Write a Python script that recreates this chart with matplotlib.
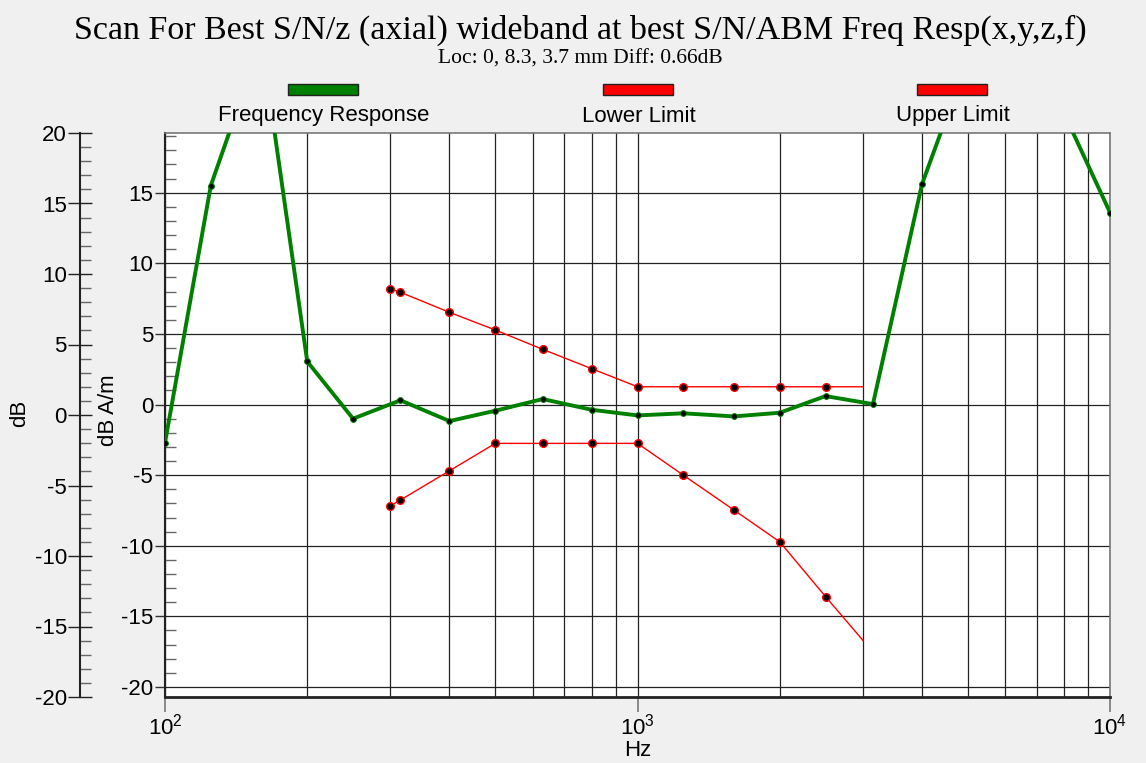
import matplotlib
matplotlib.use("Agg")
import matplotlib.pyplot as plt
from matplotlib.ticker import FixedLocator, MultipleLocator, LogLocator, NullFormatter, LogFormatterSciNotation
from matplotlib.patches import Rectangle

plt.rcParams['font.family'] = ['Liberation Sans', 'DejaVu Sans']
plt.rcParams['mathtext.default'] = 'regular'
plt.rcParams['axes.unicode_minus'] = False

# ---- data ----
freq_resp_hz = [100, 125, 160, 200, 250, 315, 400, 500, 630, 800, 1000, 1250,
                1600, 2000, 2500, 3150, 4000, 5000, 6300, 8000, 10000]
freq_resp_db = [-2.7, 15.5, 25.8, 3.05, -1.0, 0.3, -1.17, -0.44, 0.39, -0.37, -0.77, -0.62,
                -0.84, -0.58, 0.6, 0.03, 15.6, 24.5, 28.0, 20.6, 13.6]

limit_hz = [300, 315, 400, 500, 630, 800, 1000, 1250, 1600, 2000, 2500, 3000]
upper_db = [8.2, 7.95, 6.53, 5.28, 3.91, 2.54, 1.26, 1.26, 1.26, 1.26, 1.26, 1.26]
lower_db = [-7.17, -6.76, -4.69, -2.75, -2.75, -2.75, -2.75, -5.0, -7.47, -9.72, -13.6, -16.7]

legend_labels = ["Frequency Response", "Lower Limit", "Upper Limit"]
legend_colors = ["#008000", "#ff0000", "#ff0000"]

title = "Scan For Best S/N/z (axial) wideband at best S/N/ABM Freq Resp(x,y,z,f)"
subtitle = "Loc: 0, 8.3, 3.7 mm Diff: 0.66dB"

# ---- layout ----
W, H = 1146, 763
fig = plt.figure(figsize=(W / 100, H / 100), dpi=100, facecolor='#f0f0f0')

def fx(px):
    return px / W

def fy(py):
    return 1 - py / H

ax = fig.add_axes([fx(165), fy(697), fx(1110) - fx(165), fy(133) - fy(697)])
ax.set_facecolor('white')
ax.set_xscale('log')
ax.set_xlim(100, 10000)
ax.set_ylim(-20.71, 19.23)

# grid
ax.xaxis.set_major_locator(FixedLocator([100, 1000, 10000]))
ax.xaxis.set_major_formatter(LogFormatterSciNotation())
ax.xaxis.set_minor_locator(LogLocator(base=10, subs=range(2, 10)))
ax.xaxis.set_minor_formatter(NullFormatter())
ax.yaxis.set_major_locator(MultipleLocator(5))
ax.yaxis.set_minor_locator(MultipleLocator(1))
ax.grid(True, which='major', axis='both', color='#222222', lw=0.9)
ax.grid(True, which='minor', axis='x', color='#222222', lw=0.9)
ax.set_axisbelow(True)

ax.tick_params(axis='x', which='major', direction='out', length=10.8, width=1.2,
               color='#777777', labelsize=16, pad=1.5)
ax.tick_params(axis='x', which='minor', length=0)
ax.tick_params(axis='y', which='major', direction='out', length=7.5, width=1,
               color='#333333', labelsize=16, pad=1)
ax.tick_params(axis='y', which='minor', direction='in', length=8, width=1,
               color='#666666')
ax.set_yticks([-20, -15, -10, -5, 0, 5, 10, 15])

for s in ['top', 'right']:
    ax.spines[s].set_color('#777777')
    ax.spines[s].set_linewidth(1.2)
ax.spines['bottom'].set_color('#222222')
ax.spines['bottom'].set_linewidth(2)
ax.spines['left'].set_color('#222222')
ax.spines['left'].set_linewidth(1.5)

# series
ax.plot(limit_hz, upper_db, color='#ff0000', lw=1.0, marker='o', ms=5.5,
        mfc='black', mec='#ff0000', mew=1.0, markevery=slice(0, len(limit_hz) - 1),
        zorder=3)
ax.plot(limit_hz, lower_db, color='#ff0000', lw=1.0, marker='o', ms=5.5,
        mfc='black', mec='#ff0000', mew=1.0, markevery=slice(0, len(limit_hz) - 1),
        zorder=3)
ax.plot(freq_resp_hz, freq_resp_db, color='#008000', lw=2.8, marker='o', ms=4.2,
        mfc='black', mec='#008000', mew=0.7, zorder=4)

# outer dB axis
ax2 = fig.add_axes([fx(80), fy(697), 0.0005, fy(133) - fy(697)])
ax2.set_facecolor('none')
ax2.set_ylim(-20, 20)
ax2.set_xticks([])
for s in ['top', 'right', 'bottom']:
    ax2.spines[s].set_visible(False)
ax2.spines['left'].set_color('#222222')
ax2.spines['left'].set_linewidth(1.5)
ax2.yaxis.set_major_locator(MultipleLocator(5))
ax2.yaxis.set_minor_locator(MultipleLocator(1))
ax2.tick_params(axis='y', which='major', direction='inout', length=17, width=1,
                color='#222222', labelsize=16, pad=1)
ax2.tick_params(axis='y', which='minor', direction='in', length=8, width=1,
                color='#666666')

# texts
fig.text(fx(580), fy(30), title, ha='center', va='center', fontsize=24.5,
         family=['Liberation Serif', 'DejaVu Serif'])
fig.text(fx(580), fy(59), subtitle, ha='center', va='center', fontsize=15.5,
         family=['Liberation Serif', 'DejaVu Serif'])
fig.text(fx(20), fy(413), 'dB', rotation=90, ha='center', va='center', fontsize=16)
fig.text(fx(109), fy(410), 'dB A/m', rotation=90, ha='center', va='center', fontsize=16)
fig.text(fx(638), fy(751), 'Hz', ha='center', va='center', fontsize=16)

# legend
centers = [323, 638, 952]
for c, lab, col in zip(centers, legend_labels, legend_colors):
    fig.add_artist(Rectangle((fx(c - 35), fy(95)), fx(70), fy(84) - fy(95),
                             transform=fig.transFigure, facecolor=col,
                             edgecolor='#222222', lw=1))
    fig.text(fx(c + 1), fy(116), lab, ha='center', va='center', fontsize=16)

fig.savefig('out.png', dpi=100, facecolor=fig.get_facecolor())
